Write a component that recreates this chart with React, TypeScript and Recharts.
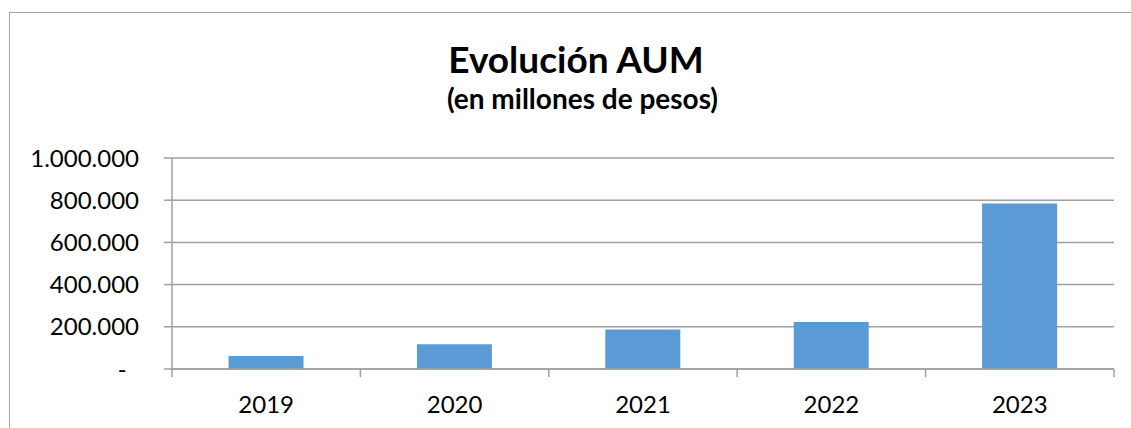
import { BarChart, Bar, XAxis, YAxis, CartesianGrid } from "recharts";

const YEARS = ["2019", "2020", "2021", "2022", "2023"];
const AUM = [62000, 117000, 187000, 223000, 784000];
const Y_TICKS = [0, 200000, 400000, 600000, 800000, 1000000];

const W = 1131;
const H = 428;
const PLOT_LEFT = 172;
const PLOT_RIGHT = 1114;
const PLOT_TOP = 158;
const PLOT_BOTTOM = 369;
const FONT = "Lato, 'Noto Sans', sans-serif";
const GRAY = "#a0a0a0";

const fmt = (v: number) =>
  v === 0 ? "-\u00A0\u00A0" : v.toLocaleString("de-DE");

function CatTick(props: any) {
  const { x, y, payload } = props;
  const bw = (PLOT_RIGHT - PLOT_LEFT) / YEARS.length;
  const isLast = payload.value === YEARS[YEARS.length - 1];
  return (
    <g>
      <line x1={x - bw / 2} x2={x - bw / 2} y1={y} y2={y + 8} stroke={GRAY} strokeWidth={1.5} />
      {isLast && <line x1={x + bw / 2} x2={x + bw / 2} y1={y} y2={y + 8} stroke={GRAY} strokeWidth={1.5} />}
      <text x={x} y={y + 44} textAnchor="middle" fontSize={24} fontFamily={FONT} fill="#000">
        {payload.value}
      </text>
    </g>
  );
}

export default function App() {
  const data = YEARS.map((y, i) => ({ year: y, aum: AUM[i] }));
  return (
    <div style={{ position: "absolute", left: 0, top: 0, width: W, height: H, overflow: "hidden", background: "#fff" }}>
      <div style={{ position: "absolute", left: 9, top: 12, width: W + 20, height: H + 20, border: "1.5px solid #a6a6a6" }} />
      <div style={{ position: "absolute", left: 0, width: 1152, top: 37, textAlign: "center", fontFamily: FONT, fontWeight: 700, fontSize: 37, lineHeight: 1.2, color: "#000" }}>
        Evolución AUM
      </div>
      <div style={{ position: "absolute", left: 0, width: 1165, top: 82, textAlign: "center", fontFamily: FONT, fontWeight: 700, fontSize: 28, lineHeight: 1.2, color: "#000" }}>
        (en millones de pesos)
      </div>
      <div style={{ position: "absolute", left: 0, top: 0 }}>
        <BarChart
          width={W}
          height={H}
          data={data}
          margin={{ top: PLOT_TOP, right: W - PLOT_RIGHT, bottom: 0, left: 0 }}
          barCategoryGap="30%"
        >
          <CartesianGrid horizontal vertical={false} stroke={GRAY} strokeWidth={1.5} />
          <XAxis
            dataKey="year"
            height={H - PLOT_BOTTOM}
            axisLine={{ stroke: GRAY, strokeWidth: 1.5 }}
            tickLine={false}
            tickSize={0}
            tickMargin={0}
            interval={0}
            tick={<CatTick />}
          />
          <YAxis
            width={PLOT_LEFT}
            domain={[0, 1000000]}
            ticks={Y_TICKS}
            tickFormatter={fmt}
            axisLine={{ stroke: GRAY, strokeWidth: 1.5 }}
            tickLine={{ stroke: GRAY, strokeWidth: 1.5 }}
            tickSize={8}
            tickMargin={25}
            tick={{ fontSize: 24, fontFamily: FONT, fill: "#000" }}
          />
          <Bar dataKey="aum" fill="#5b9bd5" isAnimationActive={false} />
        </BarChart>
      </div>
    </div>
  );
}
